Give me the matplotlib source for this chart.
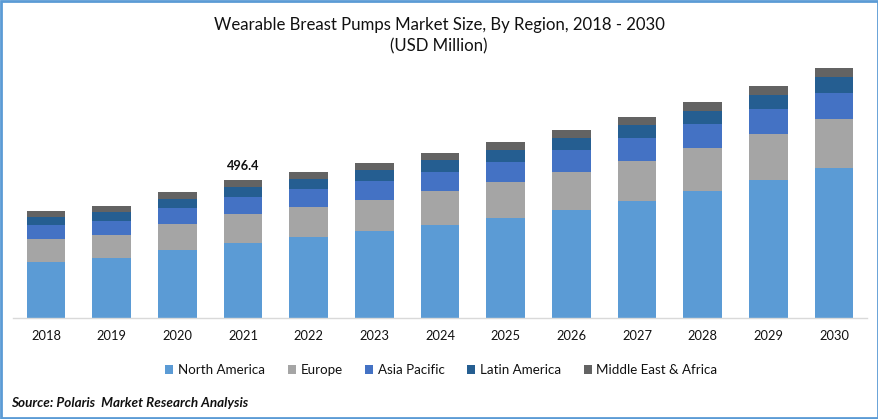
import numpy as np
import matplotlib.pyplot as plt
from matplotlib.patches import Rectangle

plt.rcParams['font.family'] = ['Lato', 'DejaVu Sans']

years = ['2018', '2019', '2020', '2021', '2022', '2023', '2024',
         '2025', '2026', '2027', '2028', '2029', '2030']
north_america = [201.4, 215.8, 244.6, 269.8, 291.4, 312.9, 334.5, 359.7, 388.5, 420.8, 456.8, 496.4, 539.6]
europe = [82.7, 82.7, 93.5, 104.3, 107.9, 111.5, 122.3, 129.5, 136.7, 143.9, 154.7, 165.5, 176.3]
asia_pacific = [50.4, 50.4, 57.6, 61.1, 64.7, 68.3, 68.3, 71.9, 79.1, 82.7, 86.3, 89.9, 93.5]
latin_america = [28.8, 32.4, 32.4, 36.0, 36.0, 39.6, 43.2, 43.2, 43.2, 46.8, 46.8, 50.4, 57.6]
middle_east = [21.6, 21.6, 25.2, 25.2, 25.2, 25.2, 25.2, 28.8, 28.8, 28.8, 32.4, 32.4, 32.4]

series = [
    ('North America', north_america, '#5B9BD5'),
    ('Europe', europe, '#A5A5A5'),
    ('Asia Pacific', asia_pacific, '#4472C4'),
    ('Latin America', latin_america, '#255E91'),
    ('Middle East & Africa', middle_east, '#636363'),
]

W, H = 879, 419
fig = plt.figure(figsize=(W / 100, H / 100), dpi=100)
ax = fig.add_axes([13.2 / W, 1 - 318 / H, 853.6 / W, 268 / H])

# stacked bars
x = np.arange(len(years))
bottom = np.zeros(len(years))
for name, values, color in series:
    ax.bar(x, values, 0.585, bottom=bottom, color=color, label=name)
    bottom += np.array(values)

ax.text(3, bottom[3] + 30, '496.4', ha='center', va='bottom', fontsize=9.2, fontweight='bold', color='#111111')

ax.set_xlim(-0.5, 12.5)
ax.set_ylim(0, 964)
ax.set_xticks(x, years)
ax.tick_params(axis='x', length=0, pad=8.5, labelsize=9.3, labelcolor='#111111')
ax.yaxis.set_visible(False)
for s in ['top', 'left', 'right']:
    ax.spines[s].set_visible(False)
ax.spines['bottom'].set_color('#D9D9D9')
ax.spines['bottom'].set_linewidth(1)

fig.text(439 / W, 1 - 25 / H, 'Wearable Breast Pumps Market Size, By Region, 2018 - 2030',
         ha='center', va='center', fontsize=12.1, color='#111111')
fig.text(439 / W, 1 - 46 / H, '(USD Million)', ha='center', va='center', fontsize=12.1, color='#111111')

fig.legend(loc='center', bbox_to_anchor=(441.5 / W, 1 - 370 / H), ncol=5, frameon=False,
           fontsize=9.6, handlelength=0.6, handleheight=0.6, handletextpad=0.35,
           columnspacing=1.7, labelcolor='#111111')

fig.text(11 / W, 1 - 403 / H, 'Source: Polaris  Market Research Analysis', ha='left', va='center',
         fontsize=9.7, fontweight='bold', fontstyle='italic', color='#111111')

# blue frame around the picture
fig.add_artist(Rectangle((1 / W, 1 / H), 1 - 2 / W, 1 - 2 / H, transform=fig.transFigure,
                         fill=False, edgecolor='#5B9BD5', linewidth=2))

fig.savefig('out.png', dpi=100)
